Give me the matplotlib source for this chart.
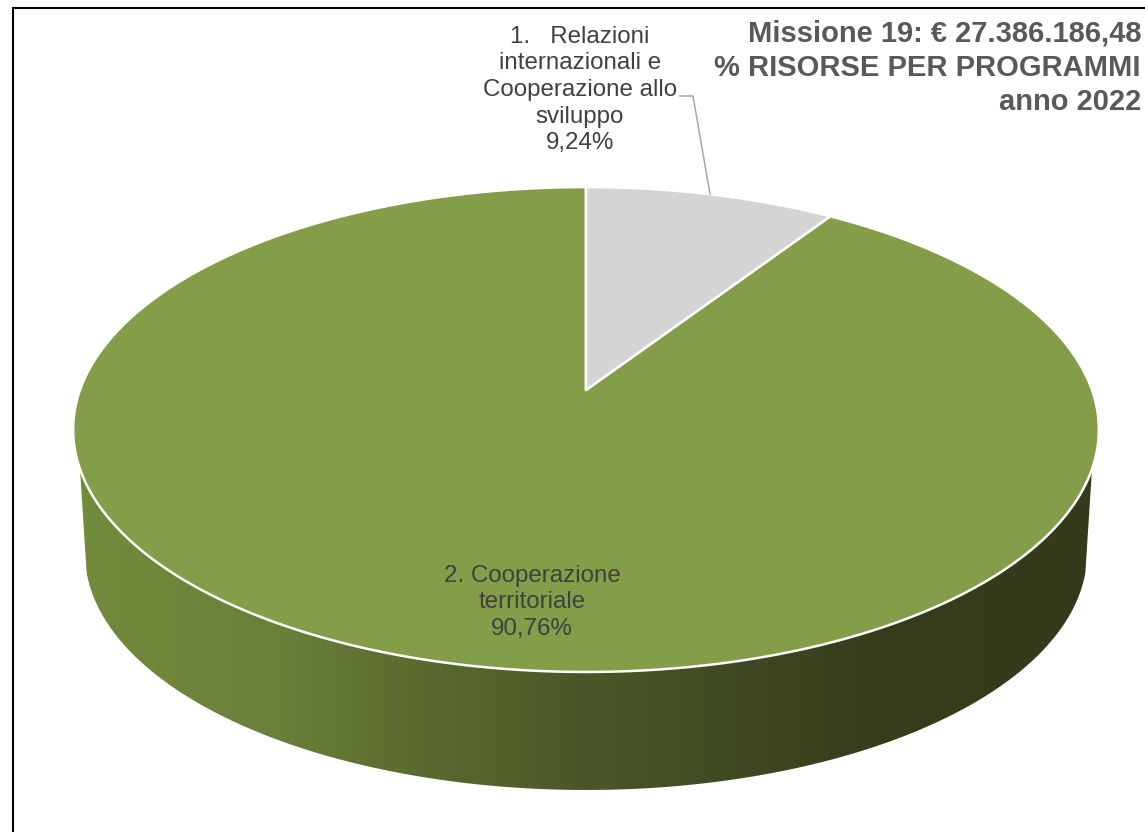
import numpy as np
import matplotlib
matplotlib.use("Agg")
import matplotlib.pyplot as plt
from matplotlib.colors import LinearSegmentedColormap
from matplotlib.patches import Polygon

plt.rcParams['font.family'] = ['Liberation Sans', 'DejaVu Sans']

labels = ["1.   Relazioni\ninternazionali e\nCooperazione allo\nsviluppo\n9,24%",
          "2. Cooperazione\nterritoriale\n90,76%"]
shares = [9.24, 90.76]
title_lines = ["Missione 19: € 27.386.186,48", "% RISORSE PER PROGRAMMI", "anno 2022"]

top_color = "#839d49"
grey_color = "#d4d4d4"
wall_colors = ["#738b3d", "#6a7f38", "#5c6d30", "#4b5628", "#414b23", "#373c1b", "#353a1a"]
wall_stops = [0.0, 0.2, 0.32, 0.5, 0.63, 0.78, 1.0]

# perspective of the pie disc, in pixels of the picture
cx, cy = 586.0, 390.0
A, B, k = 506.0, 236.0, 0.163
wall_scale, wall_drop = 0.977, 124.5


def project(a, r=1.0, s=1.0, drop=0.0):
    # a is the angle clockwise from the top, in radians
    x = r * np.sin(a)
    y = r * np.cos(a)
    w = 1 + k * y
    return cx + s * A * x / w, cy + drop - s * B * y / w


fig = plt.figure(figsize=(11.45, 8.32), dpi=100)
ax = fig.add_axes([0, 0, 1, 1])

split = 2 * np.pi * shares[0] / sum(shares)

# side wall, gradient clipped to the shape between the two rims
tx, ty = project(np.radians(np.linspace(93.5, 266.5, 300)))
bx, by = project(np.radians(np.linspace(256, 104, 300)), s=wall_scale, drop=wall_drop)
wall = Polygon(np.column_stack([np.r_[tx, bx], np.r_[ty, by]]), closed=True,
               facecolor="none", edgecolor="none")
ax.add_patch(wall)
cmap = LinearSegmentedColormap.from_list("wall", list(zip(wall_stops, wall_colors)))
im = ax.imshow(np.linspace(0, 1, 512).reshape(1, -1), cmap=cmap, aspect="auto",
               extent=[73, 1099, 800, 440], zorder=1)
im.set_clip_path(wall)

# top face
a_green = np.linspace(split, 2 * np.pi, 500)
gx, gy = project(a_green)
ax.add_patch(Polygon(np.column_stack([np.r_[cx, gx], np.r_[cy, gy]]), closed=True,
                     facecolor=top_color, edgecolor="white", linewidth=1.8,
                     joinstyle="round", zorder=2))
a_grey = np.linspace(0, split, 80)
gx, gy = project(a_grey)
ax.add_patch(Polygon(np.column_stack([np.r_[cx, gx], np.r_[cy, gy]]), closed=True,
                     facecolor=grey_color, edgecolor="white", linewidth=1.8,
                     joinstyle="round", zorder=3))

# leader line of the small slice
ax.plot([680, 693, 710], [96, 96, 194], color="#a6a6a6", linewidth=1.1, zorder=4)

ax.text(580, 90, labels[0], ha="center", va="center", fontsize=17.4,
        color="#404040", linespacing=1.27, zorder=5)
ax.text(532, 602.5, labels[1], ha="center", va="center", fontsize=17.4,
        color="#404040", linespacing=1.27, zorder=5)

for line, y in zip(title_lines, [33, 68, 102]):
    ax.text(1141, y, line, ha="right", va="center", fontsize=21,
            fontweight="bold", color="#595959", zorder=5)

ax.set_xlim(0, 1145)
ax.set_ylim(832, 0)
ax.axis("off")

# frame of the chart: only left and top show in the crop
ax.plot([12.5, 12.5], [832, 8], color="black", linewidth=1.5, zorder=6)
ax.plot([12.5, 1145], [8, 8], color="black", linewidth=1.5, zorder=6)

fig.savefig("out.png", dpi=100, facecolor="white")
